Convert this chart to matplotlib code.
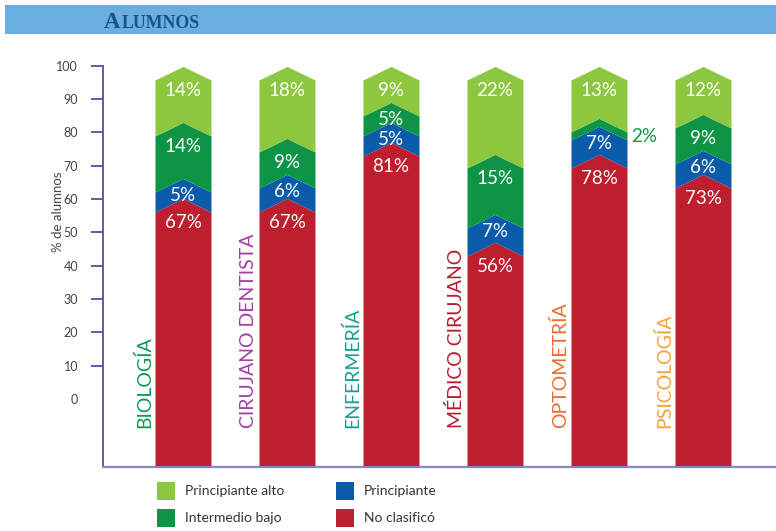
import matplotlib
matplotlib.use('Agg')
import matplotlib.pyplot as plt
from matplotlib.patches import Rectangle
import numpy as np

# ---------------- data ----------------
categories = ['BIOLOGÍA', 'CIRUJANO DENTISTA', 'ENFERMERÍA', 'MÉDICO CIRUJANO', 'OPTOMETRÍA', 'PSICOLOGÍA']
cat_colors = ['#109a52', '#a43ea6', '#17a08c', '#b81c2e', '#f06a2c', '#f5a23c']

no_clasifico = [67, 67, 81, 56, 78, 73]
principiante = [5, 6, 5, 7, 7, 6]
intermedio_bajo = [14, 9, 5, 15, 2, 9]
principiante_alto = [14, 18, 9, 22, 13, 12]

series_names = ['No clasificó', 'Principiante', 'Intermedio bajo', 'Principiante alto']
series_values = [no_clasifico, principiante, intermedio_bajo, principiante_alto]
series_colors = ['#be1e2d', '#0b5bab', '#0e9446', '#8dc63f']

y_ticks = [10, 20, 30, 40, 50, 60, 70, 80, 90, 100]
title_text = 'Alumnos'
y_label = '% de alumnos'

# ---------------- figure ----------------
W, H = 776, 531
fig = plt.figure(figsize=(W / 100, H / 100), dpi=100)
fig.patch.set_facecolor('white')
FONT = ['Lato', 'DejaVu Sans']


def fx(px):
    return px / W


def fy(py):
    return 1 - py / H


# title bar
fig.patches.append(Rectangle((fx(5), fy(34)), 1 - fx(5), 29 / H, transform=fig.transFigure,
                             facecolor='#6aaee0', edgecolor='none'))
tA = fig.text(fx(104), fy(28), 'A', fontsize=16.5, family='Liberation Serif', weight='bold',
              color='#1b4f8e', va='baseline', ha='left')
fig.canvas.draw()
ext = tA.get_window_extent(fig.canvas.get_renderer())
fig.text(ext.x1 / W + 0.001, fy(28), title_text[1:].upper(),
         fontsize=12.8, family=['Liberation Serif', 'DejaVu Serif'],
         weight='bold', color='#1b4f8e', va='baseline', ha='left')

# axes: bar data 0 at pixel 480, 4 px per percent
ax_left, ax_right, ax_bottom, ax_top = 103, 776, 467, 40
ax = fig.add_axes([fx(ax_left), fy(ax_bottom), (ax_right - ax_left) / W, (ax_bottom - ax_top) / H])
ax.set_facecolor('none')
ax.set_ylim((480 - ax_bottom) / 4, (480 - ax_top) / 4)
spacing = 104
first_center = 183
ax.set_xlim(-(first_center - ax_left) / spacing, (ax_right - first_center) / spacing)

bar_w = 56 / spacing
chev = 3.4

x_pos = np.arange(len(categories))
cum = np.zeros(len(categories))
for vals, col in zip(series_values, series_colors):
    for i, c in enumerate(x_pos):
        xs = np.array([c - bar_w / 2, c, c + bar_w / 2])
        shape = np.array([0, 1, 0]) * chev
        lower = cum[i] + shape if cum[i] > 0 else np.zeros(3)
        upper = cum[i] + vals[i] + shape
        ax.fill_between(xs, lower, upper, color=col, linewidth=0, zorder=1)
    cum = cum + np.array(vals)

# value labels
cum = np.zeros(len(categories))
for vals, col in zip(series_values, series_colors):
    for i, c in enumerate(x_pos):
        v = vals[i]
        top = cum[i] + v
        if v <= 3:
            ax.text(c + 0.43, cum[i] + v / 2, f'{v}%', color='#0e9446', fontsize=13.5,
                    family=FONT, ha='center', va='center')
        else:
            off = 0.9 if v < 8 else 2.6
            ax.text(c, top - off, f'{v}%', color='white', fontsize=13.5, family=FONT,
                    ha='center', va='center', zorder=3)
    cum = cum + np.array(vals)

# category labels
for i, (c, name, col) in enumerate(zip(x_pos, categories, cat_colors)):
    ax.text(c - 0.375, 13, name, rotation=90, color=col, fontsize=14, family=FONT,
            weight='normal', ha='center', va='bottom')

# spines / ticks
for s in ['top', 'right', 'left']:
    ax.spines[s].set_visible(False)
ax.spines['bottom'].set_color('#8585cc')
ax.spines['bottom'].set_linewidth(1.6)
ax.set_xticks([])
ax.tick_params(left=False, labelleft=False)


def fwd(d):
    return 1.2 * d - 24.3


def inv(t):
    return (t + 24.3) / 1.2


sec = ax.secondary_yaxis('left', functions=(fwd, inv))
sec.set_yticks(y_ticks)
sec.set_yticks([0], minor=True, labels=['0'])
sec.spines['left'].set_color('#5b5bab')
sec.spines['left'].set_linewidth(1.4)
sec.spines['left'].set_bounds(fwd((480 - ax_bottom) / 4), 100)
sec.tick_params(axis='y', which='major', length=9, width=1.4, color='#5b5bab',
                labelsize=9, labelcolor='#444444', pad=9)
sec.tick_params(axis='y', which='minor', length=9, width=0, labelsize=9,
                labelcolor='#444444', pad=9)
for lab in sec.get_yticklabels() + sec.get_yticklabels(minor=True):
    lab.set_family(FONT)

fig.text(fx(58), fy(212), y_label, rotation=90, fontsize=9.5, color='#444444',
         family=FONT, ha='center', va='center')

# legend
leg_items = [('Principiante alto', '#8dc63f', 157, 491),
             ('Intermedio bajo', '#0e9446', 157, 518),
             ('Principiante', '#0b5bab', 336, 491),
             ('No clasificó', '#be1e2d', 336, 518)]
for name, col, lx, ly in leg_items:
    fig.patches.append(Rectangle((fx(lx), fy(ly + 9)), 18 / W, 18 / H, transform=fig.transFigure,
                                 facecolor=col, edgecolor='none'))
    fig.text(fx(lx + 28), fy(ly), name, fontsize=10, color='#333333', family=FONT,
             ha='left', va='center')

fig.savefig('out.png', dpi=100, facecolor='white')
